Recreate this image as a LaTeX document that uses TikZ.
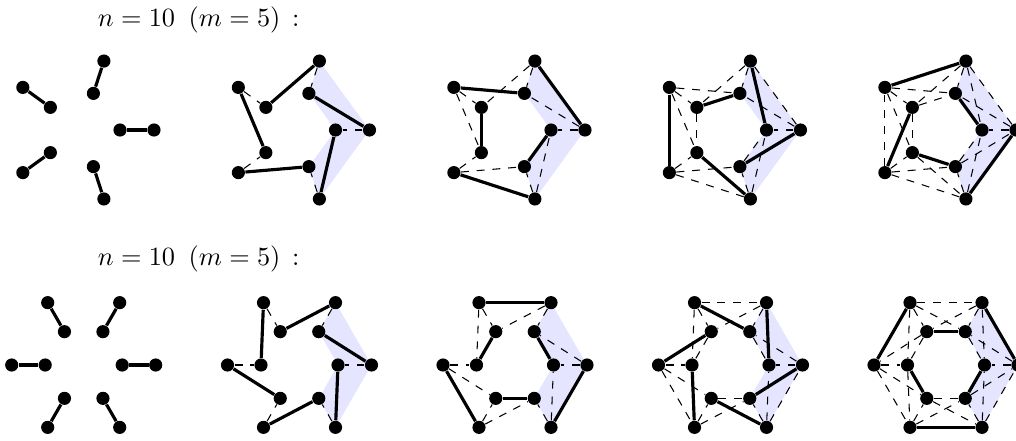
\documentclass[tikz,border=0pt]{standalone}
\usetikzlibrary{backgrounds}
\tikzset{
  vtx/.style={circle,fill=black,draw=none,inner sep=0pt,minimum size=5pt},
  sol/.style={line width=1.2pt},
  dsh/.style={dashed,line width=0.4pt},
  shadereg/.style={fill=blue!10,draw=none},
  lbl/.style={anchor=base east,inner sep=0pt,font=\fontsize{10.4pt}{13pt}\selectfont}
}
% top row (pentagon) matchings
\def\tma{o0/i0,o1/i1,o2/i2,o3/i3,o4/i4}
\def\tmb{o0/i1,o1/i2,o2/i3,o3/i4,o4/i0}
\def\tmc{o2/i1,o1/o0,i2/i3,i4/i0,o3/o4}
\def\tmd{o2/o3,i2/i1,o1/i0,i4/o0,i3/o4}
\def\tme{o2/o1,i2/o3,i1/i0,i3/i4,o4/o0}
% bottom row (hexagon) matchings
\def\bma{o0/i0,o1/i1,o2/i2,o3/i3,o4/i4,o5/i5}
\def\bmb{o0/i1,o1/i2,o2/i3,o3/i4,o4/i5,o5/i0}
\def\bmc{o2/o1,i2/i3,i1/i0,o3/o4,i4/i5,o5/o0}
\def\bmd{o2/i1,o1/i0,i2/o3,i3/o4,i4/o5,i5/o0}
\def\bme{o2/o3,i2/i1,o1/o0,i3/i4,i5/i0,o4/o5}
\begin{document}
\begin{tikzpicture}[x=0.38pt,y=-0.38pt]
\useasboundingbox (0,0) rectangle (1016,440);
\node[lbl] (ltop) at (300,26) {$n=10\ \,(m=5)\,:$};
\node[lbl] (lbot) at (300,265) {$n=10\ \,(m=5)\,:$};
% vertices
\foreach \f/\cx in {1/81.5,2/297,3/512.5,4/728,5/943.5}{
  \foreach \i in {0,...,4}{
    \node[vtx] (t\f o\i) at ({\cx+72.5*cos(72*\i)},{130-72.5*sin(72*\i)}) {};
    \node[vtx] (t\f i\i) at ({\cx+38.5*cos(72*\i)},{130-38.5*sin(72*\i)}) {};
  }
}
\foreach \f/\cx in {1/83.7,2/299.5,3/515,4/730.5,5/946}{
  \foreach \i in {0,...,5}{
    \node[vtx] (b\f o\i) at ({\cx+72*cos(60*\i)},{365-72*sin(60*\i)}) {};
    \node[vtx] (b\f i\i) at ({\cx+38.5*cos(60*\i)},{365-38.5*sin(60*\i)}) {};
  }
}
\begin{scope}[on background layer]
  % shaded regions
  \foreach \f in {2,...,5}{
    \fill[shadereg] (t\f o1.center) -- (t\f o0.center) -- (t\f o4.center) -- (t\f i4.center) -- (t\f i0.center) -- (t\f i1.center) -- cycle;
    \fill[shadereg] (b\f o1.center) -- (b\f o0.center) -- (b\f o5.center) -- (b\f i5.center) -- (b\f i0.center) -- (b\f i1.center) -- cycle;
  }
  % dashed (earlier matchings)
  \foreach \f in {2,...,5}{
    \foreach \a/\b in \tma {\draw[dsh] (t\f\a) -- (t\f\b);}
    \foreach \a/\b in \bma {\draw[dsh] (b\f\a) -- (b\f\b);}
  }
  \foreach \f in {3,4,5}{
    \foreach \a/\b in \tmb {\draw[dsh] (t\f\a) -- (t\f\b);}
    \foreach \a/\b in \bmb {\draw[dsh] (b\f\a) -- (b\f\b);}
  }
  \foreach \f in {4,5}{
    \foreach \a/\b in \tmc {\draw[dsh] (t\f\a) -- (t\f\b);}
    \foreach \a/\b in \bmc {\draw[dsh] (b\f\a) -- (b\f\b);}
  }
  \foreach \a/\b in \tmd {\draw[dsh] (t5\a) -- (t5\b);}
  \foreach \a/\b in \bmd {\draw[dsh] (b5\a) -- (b5\b);}
  % solid (current matching)
  \foreach \a/\b in \tma {\draw[sol] (t1\a) -- (t1\b);}
  \foreach \a/\b in \tmb {\draw[sol] (t2\a) -- (t2\b);}
  \foreach \a/\b in \tmc {\draw[sol] (t3\a) -- (t3\b);}
  \foreach \a/\b in \tmd {\draw[sol] (t4\a) -- (t4\b);}
  \foreach \a/\b in \tme {\draw[sol] (t5\a) -- (t5\b);}
  \foreach \a/\b in \bma {\draw[sol] (b1\a) -- (b1\b);}
  \foreach \a/\b in \bmb {\draw[sol] (b2\a) -- (b2\b);}
  \foreach \a/\b in \bmc {\draw[sol] (b3\a) -- (b3\b);}
  \foreach \a/\b in \bmd {\draw[sol] (b4\a) -- (b4\b);}
  \foreach \a/\b in \bme {\draw[sol] (b5\a) -- (b5\b);}
\end{scope}
\end{tikzpicture}
\end{document}
